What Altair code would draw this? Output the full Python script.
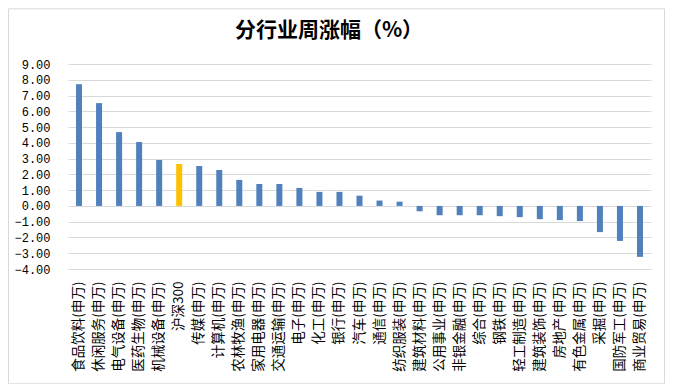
import altair as alt
import pandas as pd

title_text = "分行业周涨幅（%）"
categories = [
    "食品饮料(申万)", "休闲服务(申万)", "电气设备(申万)", "医药生物(申万)", "机械设备(申万)",
    "沪深300", "传媒(申万)", "计算机(申万)", "农林牧渔(申万)", "家用电器(申万)",
    "交通运输(申万)", "电子(申万)", "化工(申万)", "银行(申万)", "汽车(申万)",
    "通信(申万)", "纺织服装(申万)", "建筑材料(申万)", "公用事业(申万)", "非银金融(申万)",
    "综合(申万)", "钢铁(申万)", "轻工制造(申万)", "建筑装饰(申万)", "房地产(申万)",
    "有色金属(申万)", "采掘(申万)", "国防军工(申万)", "商业贸易(申万)",
]
values = [
    7.72, 6.52, 4.68, 4.05, 2.91,
    2.66, 2.53, 2.28, 1.65, 1.39,
    1.39, 1.14, 0.89, 0.89, 0.65,
    0.34, 0.27, -0.34, -0.59, -0.59,
    -0.59, -0.65, -0.71, -0.84, -0.90,
    -0.96, -1.66, -2.22, -3.23,
]
groups = ["指数" if c == "沪深300" else "行业" for c in categories]
y_ticks = [-4, -3, -2, -1, 0, 1, 2, 3, 4, 5, 6, 7, 8, 9]

df = pd.DataFrame({"cat": categories, "val": values, "grp": groups})

bars = alt.Chart(df).mark_bar().encode(
    x=alt.X(
        "cat:N",
        sort=categories,
        title=None,
        scale=alt.Scale(paddingInner=0.7, paddingOuter=0.4),
        axis=alt.Axis(
            labelAngle=-90,
            labelAlign="right",
            labelBaseline="middle",
            labelPadding=12,
            labelFont="Noto Sans CJK SC",
            labelFontSize=13.5,
            labelColor="#000000",
            ticks=False,
            domain=False,
            grid=False,
            labelLimit=200,
        ),
    ),
    y=alt.Y(
        "val:Q",
        title=None,
        scale=alt.Scale(domain=[-4, 9], nice=False, zero=False),
        axis=alt.Axis(
            values=y_ticks,
            format=".2f",
            labelFont="Liberation Mono",
            labelFontSize=12,
            labelColor="#000000",
            labelPadding=18,
            ticks=False,
            domain=False,
            grid=True,
            gridColor="#D9D9D9",
            gridWidth=1,
        ),
    ),
    color=alt.Color(
        "grp:N",
        scale=alt.Scale(domain=["行业", "指数"], range=["#4F81BD", "#FFC000"]),
        legend=None,
    ),
)

frame = alt.Chart(alt.Data(values=[{}])).mark_rect(
    fill=None, stroke="#D9D9D9", strokeWidth=1
).encode(
    x=alt.value(-59.5), x2=alt.value(596.5), y=alt.value(-55.2), y2=alt.value(319.8)
)

title = alt.Chart(alt.Data(values=[{"t": title_text}])).mark_text(
    font="Noto Sans CJK SC", fontSize=21, fontWeight="bold", color="#000000",
    align="center", baseline="middle",
).encode(
    text="t:N", x=alt.value(261), y=alt.value(-33.5)
)

chart = alt.layer(frame, title, bars).properties(
    width=583,
    height=205,
    autosize=alt.AutoSizeParams(type="none"),
    padding={"left": 60, "top": 56, "right": 14, "bottom": 115},
).configure_view(stroke=None)

chart.save("out.html", embed_options={"renderer": "svg", "actions": False})
